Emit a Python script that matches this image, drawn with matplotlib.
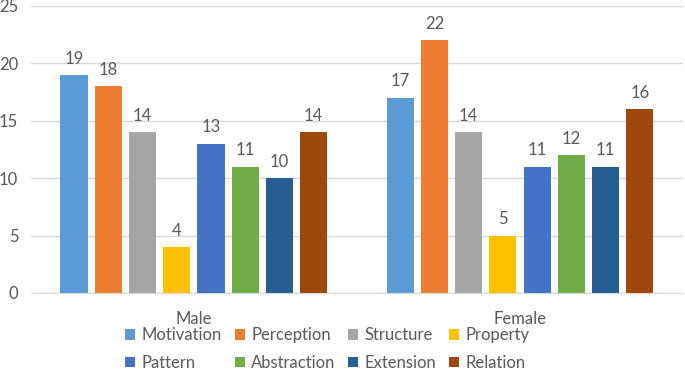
import numpy as np
import matplotlib
matplotlib.use("Agg")
import matplotlib.pyplot as plt

groups = ["Male", "Female"]
series = ["Motivation", "Perception", "Structure", "Property",
          "Pattern", "Abstraction", "Extension", "Relation"]
male = [19, 18, 14, 4, 13, 11, 10, 14]
female = [17, 22, 14, 5, 11, 12, 11, 16]
colors = ["#5B9BD5", "#ED7D31", "#A5A5A5", "#FFC000",
          "#4472C4", "#70AD47", "#255E91", "#9E480E"]

plt.rcParams["font.family"] = ["Lato", "DejaVu Sans"]
text_color = "#595959"
fs = 12

fig = plt.figure(figsize=(6.85, 3.73), dpi=100)
ax = fig.add_axes([0.045, 0.2145, 0.952, 0.7695])

x = np.arange(len(groups))
step = 0.105
width = 0.083
offsets = (np.arange(len(series)) - (len(series) - 1) / 2) * step

handles = {}
for i, name in enumerate(series):
    vals = [male[i], female[i]]
    bars = ax.bar(x + offsets[i], vals, width, color=colors[i], label=name)
    handles[name] = bars
    for b, v in zip(bars, vals):
        ax.annotate(str(v), (b.get_x() + b.get_width() / 2, v),
                    xytext=(0, 6), textcoords="offset points",
                    ha="center", va="bottom", fontsize=fs, color=text_color)

ax.set_xlim(-0.5, 1.5)
ax.set_ylim(0, 25)
ax.set_yticks(range(0, 26, 5))
ax.set_xticks(x)
ax.set_xticklabels(groups)
ax.tick_params(length=0, labelsize=fs, colors=text_color)
ax.tick_params(axis="x", pad=13)
ax.tick_params(axis="y", pad=9)
ax.grid(axis="y", color="#D9D9D9", linewidth=1)
ax.set_axisbelow(True)
for s in ["left", "right", "top"]:
    ax.spines[s].set_visible(False)
ax.spines["bottom"].set_color("#D9D9D9")

order = ["Motivation", "Pattern", "Perception", "Abstraction",
         "Structure", "Extension", "Property", "Relation"]
leg = fig.legend([handles[n] for n in order], order, ncol=4,
                 loc="lower center", bbox_to_anchor=(0.478, -0.035),
                 frameon=False, fontsize=fs, handlelength=0.6,
                 handleheight=0.6, handletextpad=0.4, columnspacing=0.75,
                 labelspacing=0.7)
for t in leg.get_texts():
    t.set_color(text_color)

fig.savefig("out.png", dpi=100)
